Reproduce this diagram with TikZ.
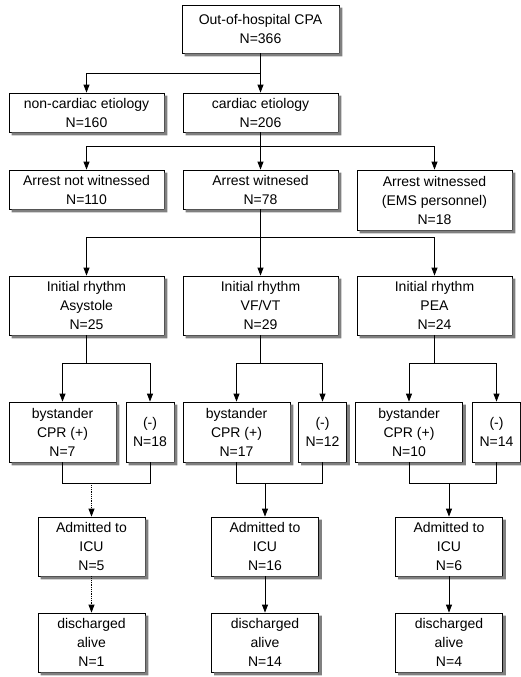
\documentclass[tikz,border=0pt]{standalone}
\usepackage{fontspec}
\setmainfont{Liberation Sans}
\usetikzlibrary{arrows.meta}

\begin{document}
\begin{tikzpicture}[x=1pt, y=-1pt,
    kasten/.style={draw, line width=0.8pt, fill=white, align=center, inner sep=0pt,
      font=\fontsize{14}{19}\selectfont},
    breit/.style={kasten, minimum width=155pt},
    schmal/.style={kasten, minimum width=48pt, minimum height=60pt},
    mittel/.style={kasten, minimum width=107pt, minimum height=59pt},
    pfeil/.style={-{Triangle[length=8pt, width=6pt]}, line width=0.8pt},
    linie/.style={line width=0.8pt}]
      \useasboundingbox (0,0) rectangle (521,677);

      % Kästen oben
      \node[kasten, minimum width=157pt, minimum height=48pt] (cpa) at (260.5,29) {Out-of-hospital CPA\\N=366};
      \node[breit, minimum height=39pt] (noncard) at (86.5,112.5) {non-cardiac etiology\\N=160};
      \node[breit, minimum height=39pt] (card)    at (260.5,112.5) {cardiac etiology\\N=206};

      \node[breit, minimum height=39pt] (notwit) at (86.5,189.5) {Arrest not witnessed\\N=110};
      \node[breit, minimum height=39pt] (wit)    at (260.5,189.5) {Arrest witnesed\\N=78};
      \node[breit, minimum height=60pt] (ems)    at (434.5,200) {Arrest witnessed\\(EMS personnel)\\N=18};

      \node[breit, minimum height=59pt] (rasys) at (86.5,305.5) {Initial rhythm\\Asystole\\N=25};
      \node[breit, minimum height=59pt] (rvf)   at (260.5,305.5) {Initial rhythm\\VF/VT\\N=29};
      \node[breit, minimum height=59pt] (rpea)  at (434.5,305.5) {Initial rhythm\\PEA\\N=24};

      % Reanimation durch Laien
      \node[mittel, minimum height=60pt] (byasys) at (62.5,432)  {bystander\\CPR (+)\\N=7};
      \node[schmal] (negasys) at (150,432)  {(-)\\N=18};
      \node[mittel, minimum height=60pt] (byvf)   at (236.5,432) {bystander\\CPR (+)\\N=17};
      \node[schmal] (negvf)   at (322.5,432) {(-)\\N=12};
      \node[mittel, minimum height=60pt] (bypea)  at (409,432)   {bystander\\CPR (+)\\N=10};
      \node[schmal] (negpea)  at (496.5,432) {(-)\\N=14};

      % Intensivstation und Entlassung
      \node[mittel] (icuasys) at (91.5,546.5) {Admitted to\\ICU\\N=5};
      \node[mittel] (icuvf)   at (265,546.5)  {Admitted to\\ICU\\N=16};
      \node[mittel] (icupea)  at (449,546.5)  {Admitted to\\ICU\\N=6};

      \node[mittel] (disasys) at (91.5,642.5) {discharged\\alive\\N=1};
      \node[mittel] (disvf)   at (265,642.5)  {discharged\\alive\\N=14};
      \node[mittel] (dispea)  at (449,642.5)  {discharged\\alive\\N=4};

      % Schatten (rechts und unten)
      \fill[gray] ([xshift=3pt, yshift=-3pt]cpa.south west) rectangle (cpa.south east) ([yshift=-3pt]cpa.north east) rectangle ([xshift=3pt, yshift=-3pt]cpa.south east);
      \fill[gray] ([xshift=3pt, yshift=-3pt]noncard.south west) rectangle (noncard.south east) ([yshift=-3pt]noncard.north east) rectangle ([xshift=3pt, yshift=-3pt]noncard.south east);
      \fill[gray] ([xshift=3pt, yshift=-3pt]card.south west) rectangle (card.south east) ([yshift=-3pt]card.north east) rectangle ([xshift=3pt, yshift=-3pt]card.south east);
      \fill[gray] ([xshift=3pt, yshift=-3pt]notwit.south west) rectangle (notwit.south east) ([yshift=-3pt]notwit.north east) rectangle ([xshift=3pt, yshift=-3pt]notwit.south east);
      \fill[gray] ([xshift=3pt, yshift=-3pt]wit.south west) rectangle (wit.south east) ([yshift=-3pt]wit.north east) rectangle ([xshift=3pt, yshift=-3pt]wit.south east);
      \fill[gray] ([xshift=3pt, yshift=-3pt]ems.south west) rectangle (ems.south east) ([yshift=-3pt]ems.north east) rectangle ([xshift=3pt, yshift=-3pt]ems.south east);
      \fill[gray] ([xshift=3pt, yshift=-3pt]rasys.south west) rectangle (rasys.south east) ([yshift=-3pt]rasys.north east) rectangle ([xshift=3pt, yshift=-3pt]rasys.south east);
      \fill[gray] ([xshift=3pt, yshift=-3pt]rvf.south west) rectangle (rvf.south east) ([yshift=-3pt]rvf.north east) rectangle ([xshift=3pt, yshift=-3pt]rvf.south east);
      \fill[gray] ([xshift=3pt, yshift=-3pt]rpea.south west) rectangle (rpea.south east) ([yshift=-3pt]rpea.north east) rectangle ([xshift=3pt, yshift=-3pt]rpea.south east);
      \fill[gray] ([xshift=3pt, yshift=-3pt]byasys.south west) rectangle (byasys.south east) ([yshift=-3pt]byasys.north east) rectangle ([xshift=3pt, yshift=-3pt]byasys.south east);
      \fill[gray] ([xshift=3pt, yshift=-3pt]negasys.south west) rectangle (negasys.south east) ([yshift=-3pt]negasys.north east) rectangle ([xshift=3pt, yshift=-3pt]negasys.south east);
      \fill[gray] ([xshift=3pt, yshift=-3pt]byvf.south west) rectangle (byvf.south east) ([yshift=-3pt]byvf.north east) rectangle ([xshift=3pt, yshift=-3pt]byvf.south east);
      \fill[gray] ([xshift=3pt, yshift=-3pt]negvf.south west) rectangle (negvf.south east) ([yshift=-3pt]negvf.north east) rectangle ([xshift=3pt, yshift=-3pt]negvf.south east);
      \fill[gray] ([xshift=3pt, yshift=-3pt]bypea.south west) rectangle (bypea.south east) ([yshift=-3pt]bypea.north east) rectangle ([xshift=3pt, yshift=-3pt]bypea.south east);
      \fill[gray] ([xshift=3pt, yshift=-3pt]negpea.south west) rectangle (negpea.south east) ([yshift=-3pt]negpea.north east) rectangle ([xshift=3pt, yshift=-3pt]negpea.south east);
      \fill[gray] ([xshift=3pt, yshift=-3pt]icuasys.south west) rectangle (icuasys.south east) ([yshift=-3pt]icuasys.north east) rectangle ([xshift=3pt, yshift=-3pt]icuasys.south east);
      \fill[gray] ([xshift=3pt, yshift=-3pt]icuvf.south west) rectangle (icuvf.south east) ([yshift=-3pt]icuvf.north east) rectangle ([xshift=3pt, yshift=-3pt]icuvf.south east);
      \fill[gray] ([xshift=3pt, yshift=-3pt]icupea.south west) rectangle (icupea.south east) ([yshift=-3pt]icupea.north east) rectangle ([xshift=3pt, yshift=-3pt]icupea.south east);
      \fill[gray] ([xshift=3pt, yshift=-3pt]disasys.south west) rectangle (disasys.south east) ([yshift=-3pt]disasys.north east) rectangle ([xshift=3pt, yshift=-3pt]disasys.south east);
      \fill[gray] ([xshift=3pt, yshift=-3pt]disvf.south west) rectangle (disvf.south east) ([yshift=-3pt]disvf.north east) rectangle ([xshift=3pt, yshift=-3pt]disvf.south east);
      \fill[gray] ([xshift=3pt, yshift=-3pt]dispea.south west) rectangle (dispea.south east) ([yshift=-3pt]dispea.north east) rectangle ([xshift=3pt, yshift=-3pt]dispea.south east);

      % Pfeile oben
      \draw[linie] (cpa.south) -- ++(0,20) coordinate (j1);
      \draw[pfeil] (j1) -| (noncard.north);
      \draw[pfeil] (j1) -- (card.north);

      \draw[linie] (card.south) -- ++(0,14) coordinate (j2);
      \draw[pfeil] (j2) -| (notwit.north);
      \draw[pfeil] (j2) -- (wit.north);
      \draw[pfeil] (j2) -| (ems.north);

      \draw[linie] (wit.south) -- ++(0,28) coordinate (j3);
      \draw[pfeil] (j3) -| (rasys.north);
      \draw[pfeil] (j3) -- (rvf.north);
      \draw[pfeil] (j3) -| (rpea.north);

      % Aufteilung nach Rhythmus
      \draw[linie] (rasys.south) -- ++(0,28) coordinate (jasys);
      \draw[pfeil] (jasys) -| (byasys.north);
      \draw[pfeil] (jasys) -| (negasys.north);
      \draw[linie] (rvf.south) -- ++(0,28) coordinate (jvf);
      \draw[pfeil] (jvf) -| (byvf.north);
      \draw[pfeil] (jvf) -| (negvf.north);
      \draw[linie] (rpea.south) -- ++(0,28) coordinate (jpea);
      \draw[pfeil] (jpea) -| (bypea.north);
      \draw[pfeil] (jpea) -| (negpea.north);

      % Zusammenführung
      \draw[linie] (byasys.south) -- ++(0,21) coordinate (kasys) -| (negasys.south);
      \draw[pfeil, densely dotted] (icuasys.north |- kasys) -- (icuasys.north);
      \draw[linie] (byvf.south) -- ++(0,21) coordinate (kvf) -| (negvf.south);
      \draw[pfeil] (icuvf.north |- kvf) -- (icuvf.north);
      \draw[linie] (bypea.south) -- ++(0,21) coordinate (kpea) -| (negpea.south);
      \draw[pfeil] (icupea.north |- kpea) -- (icupea.north);

      \draw[pfeil, densely dotted] (icuasys.south) -- (disasys.north);
      \draw[pfeil] (icuvf.south) -- (disvf.north);
      \draw[pfeil] (icupea.south) -- (dispea.north);
\end{tikzpicture}
\end{document}
